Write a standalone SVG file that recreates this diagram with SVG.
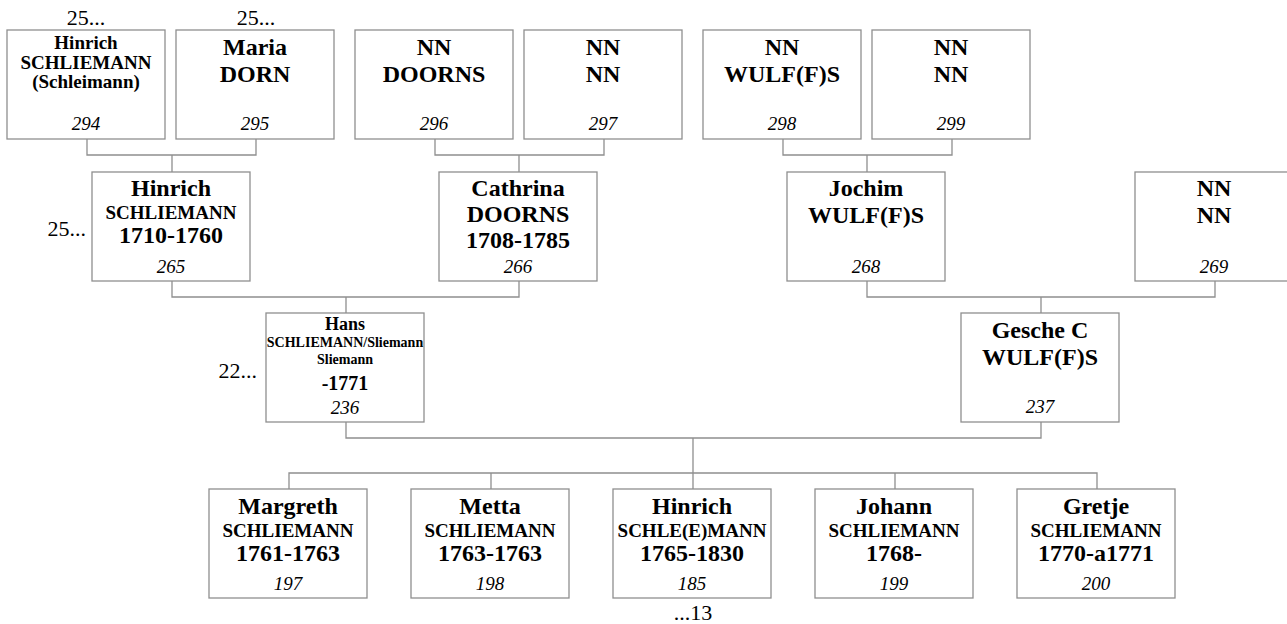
<svg xmlns="http://www.w3.org/2000/svg" width="1287" height="624" viewBox="0 0 1287 624">
<style>
.box{fill:#fff;stroke:#8f8f8f;stroke-width:1.3}
.con{fill:none;stroke:#8f8f8f;stroke-width:1.3}
text{font-family:"Liberation Serif","Times New Roman",serif;fill:#000;text-anchor:middle}
.b24{font-weight:bold;font-size:24px}
.b19{font-weight:bold;font-size:19px}
.b18{font-weight:bold;font-size:18px}
.b14{font-weight:bold;font-size:14px}
.b20{font-weight:bold;font-size:20px}
.num{font-style:italic;font-size:19px}
.lab{font-size:22px}
</style>
<rect width="1287" height="624" fill="#fff"/>
<g id="connectors">
<path class="con" d="M87 139V155H256V139M172 155V172"/>
<path class="con" d="M435 139V155H604V139M519 155V172"/>
<path class="con" d="M783 139V155H952V139M867 155V172"/>
<path class="con" d="M172 281V297H519V281M346 297V313"/>
<path class="con" d="M867 281V297H1215V281M1041 297V313"/>
<path class="con" d="M346 422V438H1041V422M693 438V473"/>
<path class="con" d="M289 489V473H1097V489M491 473V489M693 473V489M895 473V489"/>
</g>
<g id="n294"><rect class="box" x="7" y="30" width="158" height="109"/>
<text x="86" y="49" class="b19">Hinrich</text><text x="86" y="68.5" class="b19">SCHLIEMANN</text><text x="86" y="88" class="b19">(Schleimann)</text><text x="86" y="130" class="num">294</text>
<text x="86" y="25" class="lab">25...</text></g>
<g id="n295"><rect class="box" x="176" y="30" width="158" height="109"/>
<text x="255" y="54.5" class="b24">Maria</text><text x="255" y="82" class="b24">DORN</text><text x="255" y="130" class="num">295</text>
<text x="256" y="25" class="lab">25...</text></g>
<g id="n296"><rect class="box" x="355" y="30" width="158" height="109"/>
<text x="434" y="54.5" class="b24">NN</text><text x="434" y="82" class="b24">DOORNS</text><text x="434" y="130" class="num">296</text></g>
<g id="n297"><rect class="box" x="524" y="30" width="158" height="109"/>
<text x="603" y="54.5" class="b24">NN</text><text x="603" y="82" class="b24">NN</text><text x="603" y="130" class="num">297</text></g>
<g id="n298"><rect class="box" x="703" y="30" width="158" height="109"/>
<text x="782" y="54.5" class="b24">NN</text><text x="782" y="82" class="b24">WULF(F)S</text><text x="782" y="130" class="num">298</text></g>
<g id="n299"><rect class="box" x="872" y="30" width="158" height="109"/>
<text x="951" y="54.5" class="b24">NN</text><text x="951" y="82" class="b24">NN</text><text x="951" y="130" class="num">299</text></g>
<g id="n265"><rect class="box" x="92" y="172" width="158" height="109"/>
<text x="171" y="195.5" class="b24">Hinrich</text><text x="171" y="218.5" class="b19">SCHLIEMANN</text><text x="171" y="242.5" class="b24">1710-1760</text><text x="171" y="272.5" class="num">265</text>
<text x="86" y="236" class="lab" style="text-anchor:end">25...</text></g>
<g id="n266"><rect class="box" x="439" y="172" width="158" height="109"/>
<text x="518" y="195.5" class="b24">Cathrina</text><text x="518" y="221.5" class="b24">DOORNS</text><text x="518" y="247.5" class="b24">1708-1785</text><text x="518" y="272.5" class="num">266</text></g>
<g id="n268"><rect class="box" x="787" y="172" width="158" height="109"/>
<text x="866" y="195.5" class="b24">Jochim</text><text x="866" y="222.5" class="b24">WULF(F)S</text><text x="866" y="272.5" class="num">268</text></g>
<g id="n269"><rect class="box" x="1135" y="172" width="158" height="109"/>
<text x="1214" y="195.5" class="b24">NN</text><text x="1214" y="222.5" class="b24">NN</text><text x="1214" y="272.5" class="num">269</text></g>
<g id="n236"><rect class="box" x="266" y="313" width="158" height="109"/>
<text x="345" y="329.5" class="b18">Hans</text><text x="345" y="346.5" class="b14">SCHLIEMANN/Sliemann</text><text x="345" y="363.5" class="b14">Sliemann</text><text x="345" y="389.5" class="b20">-1771</text><text x="345" y="413.5" class="num">236</text>
<text x="257" y="377.5" class="lab" style="text-anchor:end">22...</text></g>
<g id="n237"><rect class="box" x="961" y="313" width="158" height="109"/>
<text x="1040" y="338" class="b24">Gesche C</text><text x="1040" y="365" class="b24">WULF(F)S</text><text x="1040" y="413" class="num">237</text></g>
<g id="n197"><rect class="box" x="209" y="489" width="158" height="109"/>
<text x="288" y="513.5" class="b24">Margreth</text><text x="288" y="536.5" class="b19">SCHLIEMANN</text><text x="288" y="560.5" class="b24">1761-1763</text><text x="288" y="589.5" class="num">197</text></g>
<g id="n198"><rect class="box" x="411" y="489" width="158" height="109"/>
<text x="490" y="513.5" class="b24">Metta</text><text x="490" y="536.5" class="b19">SCHLIEMANN</text><text x="490" y="560.5" class="b24">1763-1763</text><text x="490" y="589.5" class="num">198</text></g>
<g id="n185"><rect class="box" x="613" y="489" width="158" height="109"/>
<text x="692" y="513.5" class="b24">Hinrich</text><text x="692" y="536.5" class="b19">SCHLE(E)MANN</text><text x="692" y="560.5" class="b24">1765-1830</text><text x="692" y="589.5" class="num">185</text>
<text x="693" y="620" class="lab">...13</text></g>
<g id="n199"><rect class="box" x="815" y="489" width="158" height="109"/>
<text x="894" y="513.5" class="b24">Johann</text><text x="894" y="536.5" class="b19">SCHLIEMANN</text><text x="894" y="560.5" class="b24">1768-</text><text x="894" y="589.5" class="num">199</text></g>
<g id="n200"><rect class="box" x="1017" y="489" width="158" height="109"/>
<text x="1096" y="513.5" class="b24">Gretje</text><text x="1096" y="536.5" class="b19">SCHLIEMANN</text><text x="1096" y="560.5" class="b24">1770-a1771</text><text x="1096" y="589.5" class="num">200</text></g>
</svg>
